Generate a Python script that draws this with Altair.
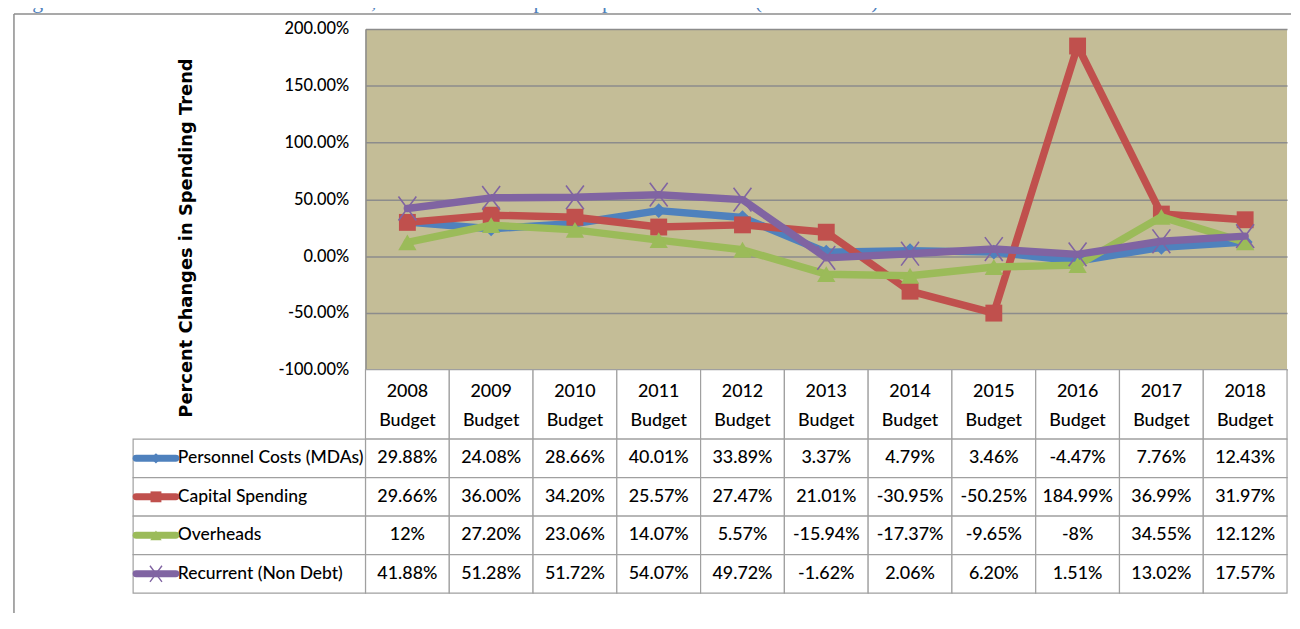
import altair as alt
import pandas as pd

# ---------------- data ----------------
years = ["2008", "2009", "2010", "2011", "2012", "2013", "2014", "2015", "2016", "2017", "2018"]
series = ["Personnel Costs (MDAs)", "Capital Spending", "Overheads", "Recurrent (Non Debt)"]
personnel = ["29.88%", "24.08%", "28.66%", "40.01%", "33.89%", "3.37%", "4.79%", "3.46%", "-4.47%", "7.76%", "12.43%"]
capital = ["29.66%", "36.00%", "34.20%", "25.57%", "27.47%", "21.01%", "-30.95%", "-50.25%", "184.99%", "36.99%", "31.97%"]
overheads = ["12%", "27.20%", "23.06%", "14.07%", "5.57%", "-15.94%", "-17.37%", "-9.65%", "-8%", "34.55%", "12.12%"]
recurrent = ["41.88%", "51.28%", "51.72%", "54.07%", "49.72%", "-1.62%", "2.06%", "6.20%", "1.51%", "13.02%", "17.57%"]
y_ticks = [-100, -50, 0, 50, 100, 150, 200]
header_labels = [f"{y}\nBudget" for y in years]
title_text = "Figure 3.9: Rate of Increase in Personnel, Overhead and Capital Expenditure Trends (2008 \u2013 2018)"
y_title = "Percent Changes in Spending Trend"

# ---------------- styles ----------------
colors = ["#4F81BD", "#C0504D", "#9BBB59", "#8064A2"]
shapes = ["diamond", "square", "triangle-up", "M-0.75,-1L0.75,1M-0.75,1L0.75,-1"]
marker_sizes = [225, 289, 340, 576]
key_sizes = [110, 120, 130, 260]
PLOT_BG = "#C4BD97"
GRID = "#8C8C8C"
BORDER = "#A0A0A0"
FRAME = "#8C8C8C"
NARROW = "Lato, Liberation Sans, sans-serif"
W = 928
H_PLOT = 343
H_HEAD = 70
H_TABLE = 155

rows = []
for s, vals in zip(series, [personnel, capital, overheads, recurrent]):
    for y, v in zip(years, vals):
        rows.append({"Series": s, "Year": y, "Label": v, "Value": float(v.rstrip("%"))})
df = pd.DataFrame(rows)
header_df = pd.DataFrame({"Year": years, "Header": header_labels})
label_df = pd.DataFrame({"Series": series})
one = pd.DataFrame({"k": [0]})

color_enc = alt.Color("Series:N", scale=alt.Scale(domain=series, range=colors), legend=None)
shape_enc = alt.Shape("Series:N", scale=alt.Scale(domain=series, range=shapes), legend=None)

# ---------------- line chart ----------------
x_pt = alt.X("Year:N", sort=years, scale=alt.Scale(type="point", padding=0.5), axis=None)
y_enc = alt.Y(
    "Value:Q",
    scale=alt.Scale(domain=[-100, 200], nice=False, zero=False),
    axis=alt.Axis(
        values=y_ticks,
        labelExpr="(datum.value < 0 ? '-' : '') + format(abs(datum.value), '.2f') + '%'",
        ticks=False,
        tickSize=0,
        labelPadding=17,
        labelFont=NARROW,
        labelFontSize=16.5,
        labelFontWeight=500,
        labelColor="#000000",
        domainColor=GRID,
        domainWidth=1.5,
        gridColor=GRID,
        gridWidth=1.5,
        title=y_title,
        titleFont="DejaVu Sans",
        titleFontSize=18,
        titleFontWeight="bold",
        titleColor="#000000",
        titleAngle=270,
        titleX=-175,
        titleY=210,
        titleBaseline="alphabetic",
        titleAlign="center",
    ),
)

layers = []
for i, s in enumerate(series):
    sub = alt.Chart(df).transform_filter(alt.datum.Series == s)
    layers.append(
        sub.mark_line(strokeWidth=7.5, strokeJoin="round", strokeCap="round").encode(
            x=x_pt, y=y_enc, color=color_enc
        )
    )
    if i < 3:
        pt = sub.mark_point(filled=True, size=marker_sizes[i], opacity=1, strokeWidth=0)
    else:
        pt = sub.mark_point(filled=False, size=marker_sizes[i], opacity=1, strokeWidth=1.6)
    layers.append(pt.encode(x=x_pt, y=y_enc, color=color_enc, shape=shape_enc))

frame_left = alt.Chart(one).mark_rule(color=FRAME, strokeWidth=1.5).encode(
    x=alt.value(-354), y=alt.value(-15), y2=alt.value(588)
)
frame_top = alt.Chart(one).mark_rule(color=FRAME, strokeWidth=1.5).encode(
    x=alt.value(-354), x2=alt.value(932), y=alt.value(-15)
)
title_mark = alt.Chart(one).mark_text(
    align="left", baseline="alphabetic", font="Liberation Serif, DejaVu Serif, serif",
    fontSize=22, color="#4F81BD"
).encode(x=alt.value(-354), y=alt.value(-21), text=alt.value(title_text))

line_chart = alt.layer(frame_left, frame_top, title_mark, *layers).properties(
    width=W, height=H_PLOT, view=alt.ViewBackground(fill=PLOT_BG, strokeWidth=0)
)

# ---------------- data table: header ----------------
x_band = alt.X("Year:N", sort=years, scale=alt.Scale(type="band", paddingInner=0, paddingOuter=0), axis=None)
head_rect = alt.Chart(header_df).mark_rect(fill="white", stroke=BORDER, strokeWidth=1.2).encode(x=x_band)
head_text = alt.Chart(header_df).mark_text(
    lineBreak="\n", lineHeight=29, baseline="alphabetic", font=NARROW, fontSize=18,
    fontWeight=500, color="#000000"
).encode(x=x_band, y=alt.value(28), text="Header:N")
header = alt.layer(head_rect, head_text).properties(width=W, height=H_HEAD)

# ---------------- data table: values ----------------
y_band = alt.Y("Series:N", sort=series, scale=alt.Scale(type="band", paddingInner=0, paddingOuter=0), axis=None)
y_mid = alt.Y("Series:N", sort=series, scale=alt.Scale(type="band", paddingInner=0, paddingOuter=0), axis=None, bandPosition=0.5)

cell_rect = alt.Chart(df).mark_rect(fill="white", stroke=BORDER, strokeWidth=1.2).encode(x=x_band, y=y_band)
cell_text = alt.Chart(df).mark_text(
    baseline="middle", font=NARROW, fontSize=18, fontWeight=500, color="#000000"
).encode(x=x_band, y=y_mid, text="Label:N")
lab_rect = alt.Chart(label_df).mark_rect(fill="white", stroke=BORDER, strokeWidth=1.2).encode(
    x=alt.value(-234), x2=alt.value(0), y=y_band
)
lab_text = alt.Chart(label_df).mark_text(
    align="left", baseline="middle", font=NARROW, fontSize=17.6, fontWeight=500, color="#000000"
).encode(x=alt.value(-189), y=y_mid, text="Series:N")

key_layers = []
for i, s in enumerate(series):
    sub = alt.Chart(label_df).transform_filter(alt.datum.Series == s)
    key_layers.append(
        sub.mark_rule(strokeWidth=7, strokeCap="round").encode(
            x=alt.value(-231), x2=alt.value(-191), y=y_mid, color=color_enc
        )
    )
    if i < 3:
        kp = sub.mark_point(filled=True, size=key_sizes[i], opacity=1, strokeWidth=0)
    else:
        kp = sub.mark_point(filled=False, size=key_sizes[i], opacity=1, strokeWidth=1.4)
    key_layers.append(kp.encode(x=alt.value(-211), y=y_mid, color=color_enc, shape=shape_enc))

table = alt.layer(cell_rect, cell_text, lab_rect, lab_text, *key_layers).properties(width=W, height=H_TABLE)

chart = (
    alt.vconcat(line_chart, header, table, spacing=0, bounds="flush")
    .properties(padding={"left": 5, "top": -20, "right": 0, "bottom": 0})
    .configure_view(strokeWidth=0)
)

chart.save("out.html", embed_options={"renderer": "svg", "actions": False})
